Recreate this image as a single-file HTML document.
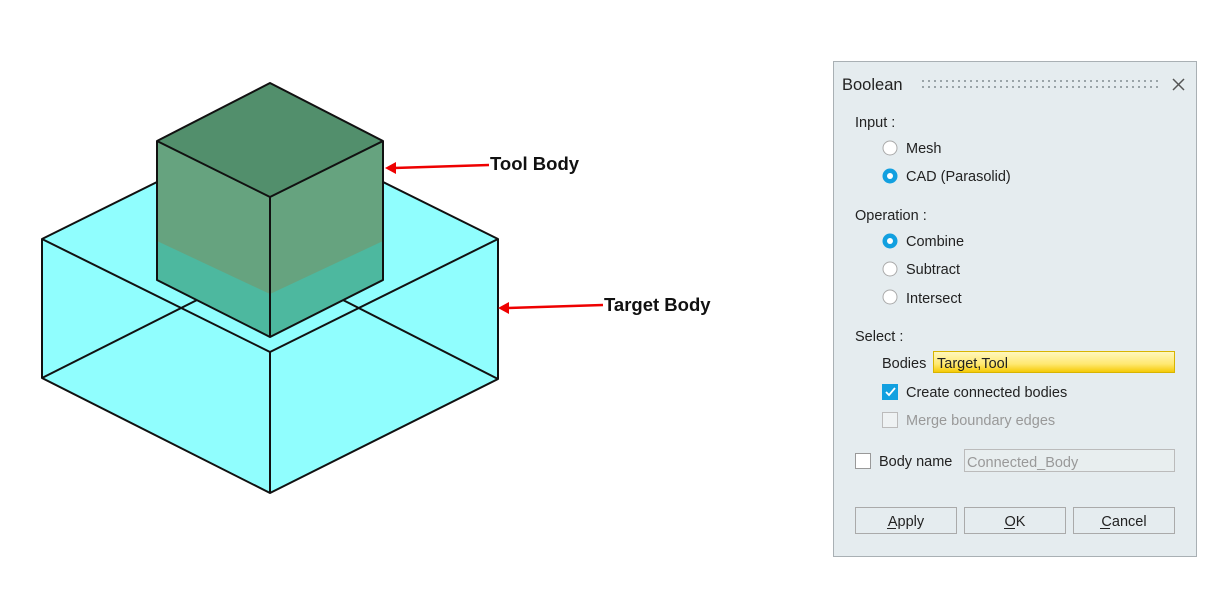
<!DOCTYPE html>
<html><head><meta charset="utf-8"><style>
html,body{margin:0;padding:0;background:#fff;}
body{width:1232px;height:602px;position:relative;overflow:hidden;font-family:"Liberation Sans",sans-serif;}
svg{position:absolute;left:0;top:0;}
.t{font-family:"Liberation Sans",sans-serif;font-size:14.5px;fill:#222;}
</style></head><body>
<svg width="1232" height="602" viewBox="0 0 1232 602">
<polygon points="42,239 270,126 498,239 498,379 270,493 42,378" fill="#90fefe"/>
<g stroke="#111" stroke-width="2" fill="none" stroke-linejoin="round">
<polyline points="42,239 270,352 498,239"/>
<polygon points="42,239 270,126 498,239 498,379 270,493 42,378"/>
<line x1="270" y1="352" x2="270" y2="493"/>
<line x1="42" y1="378" x2="197" y2="300"/>
<line x1="498" y1="379" x2="343" y2="300"/>
</g>
<polygon points="157,141 270,197 270,337 157,280" fill="#66a37f"/>
<polygon points="383,141 270,197 270,337 383,280" fill="#66a37f"/>
<polygon points="157,241 270,294 270,337 157,280" fill="#4db89f"/>
<polygon points="383,241 270,294 270,337 383,280" fill="#4db89f"/>
<polygon points="270,83 383,141 270,197 157,141" fill="#528f6c"/>
<g stroke="#111" stroke-width="2" fill="none" stroke-linejoin="round">
<polygon points="270,83 383,141 383,280 270,337 157,280 157,141"/>
<polyline points="157,141 270,197 383,141"/>
<line x1="270" y1="197" x2="270" y2="337"/>
</g>
<g stroke="#e00" stroke-width="2.5">
<line x1="489" y1="165" x2="394" y2="168"/>
<line x1="603" y1="305" x2="507" y2="308"/>
</g>
<polygon points="385,168 396,162 396,174" fill="#e00"/>
<polygon points="498,308 509,302 509,314" fill="#e00"/>
<text x="490" y="170" font-family="Liberation Sans" font-weight="bold" font-size="18.5" fill="#111">Tool Body</text>
<text x="604" y="311" font-family="Liberation Sans" font-weight="bold" font-size="18.5" fill="#111">Target Body</text>

<rect x="833.5" y="61.5" width="363" height="495" fill="#e5ecef" stroke="#a9b0b4"/>
<text x="842" y="90" class="t" style="font-size:16.5px;fill:#222">Boolean</text>
<pattern id="dots" x="922" y="80" width="6" height="6" patternUnits="userSpaceOnUse"><rect width="2" height="2" fill="#9aa4a8"/></pattern>
<rect x="922" y="80" width="240" height="10" fill="url(#dots)"/>
<g stroke="#555" stroke-width="1.5"><line x1="1173" y1="79" x2="1184" y2="90"/><line x1="1184" y1="79" x2="1173" y2="90"/></g>

<text x="855" y="127" class="t">Input :</text>
<circle cx="890" cy="148" r="7" fill="#fff" stroke="#aaa"/>
<text x="906" y="153" class="t">Mesh</text>
<circle cx="890" cy="176" r="7.5" fill="#12a0e0"/><circle cx="890" cy="176" r="3" fill="#fff"/>
<text x="906" y="181" class="t">CAD (Parasolid)</text>

<text x="855" y="220" class="t">Operation :</text>
<circle cx="890" cy="241" r="7.5" fill="#12a0e0"/><circle cx="890" cy="241" r="3" fill="#fff"/>
<text x="906" y="246" class="t">Combine</text>
<circle cx="890" cy="269" r="7" fill="#fff" stroke="#aaa"/>
<text x="906" y="274" class="t">Subtract</text>
<circle cx="890" cy="297" r="7" fill="#fff" stroke="#aaa"/>
<text x="906" y="303" class="t">Intersect</text>

<text x="855" y="341" class="t">Select :</text>
<text x="882" y="368" class="t">Bodies</text>
<defs><linearGradient id="yg" x1="0" y1="0" x2="0" y2="1"><stop offset="0" stop-color="#fff8c0"/><stop offset="0.6" stop-color="#ffe870"/><stop offset="1" stop-color="#f5c800"/></linearGradient></defs>
<rect x="933.5" y="351.5" width="241" height="21" fill="url(#yg)" stroke="#d8b400"/>
<text x="937" y="368" class="t">Target,Tool</text>
<rect x="882" y="384" width="16" height="16" fill="#12a0e0"/>
<polyline points="886,392 889,395 895,388" stroke="#fff" stroke-width="1.8" fill="none"/>
<text x="906" y="397" class="t">Create connected bodies</text>
<rect x="882.5" y="412.5" width="15" height="15" fill="#eef2f3" stroke="#bbb"/>
<text x="906" y="425" class="t" style="fill:#999">Merge boundary edges</text>

<rect x="855.5" y="453.5" width="15" height="15" fill="#fff" stroke="#999"/>
<text x="879" y="466" class="t">Body name</text>
<rect x="964.5" y="449.5" width="210" height="22" fill="#e8eeef" stroke="#bbb"/>
<text x="967" y="467" class="t" style="fill:#999">Connected_Body</text>

<g fill="#e5ecef" stroke="#aaa">
<rect x="855.5" y="507.5" width="101" height="26"/>
<rect x="964.5" y="507.5" width="101" height="26"/>
<rect x="1073.5" y="507.5" width="101" height="26"/>
</g>
<text x="906" y="526" class="t" text-anchor="middle">Apply</text>
<text x="1015" y="526" class="t" text-anchor="middle">OK</text>
<text x="1124" y="526" class="t" text-anchor="middle">Cancel</text>
<g stroke="#222" stroke-width="1"><line x1="887" y1="528.5" x2="896" y2="528.5"/><line x1="1004" y1="528.5" x2="1015" y2="528.5"/><line x1="1100" y1="528.5" x2="1110" y2="528.5"/></g>
</svg>
</body></html>
